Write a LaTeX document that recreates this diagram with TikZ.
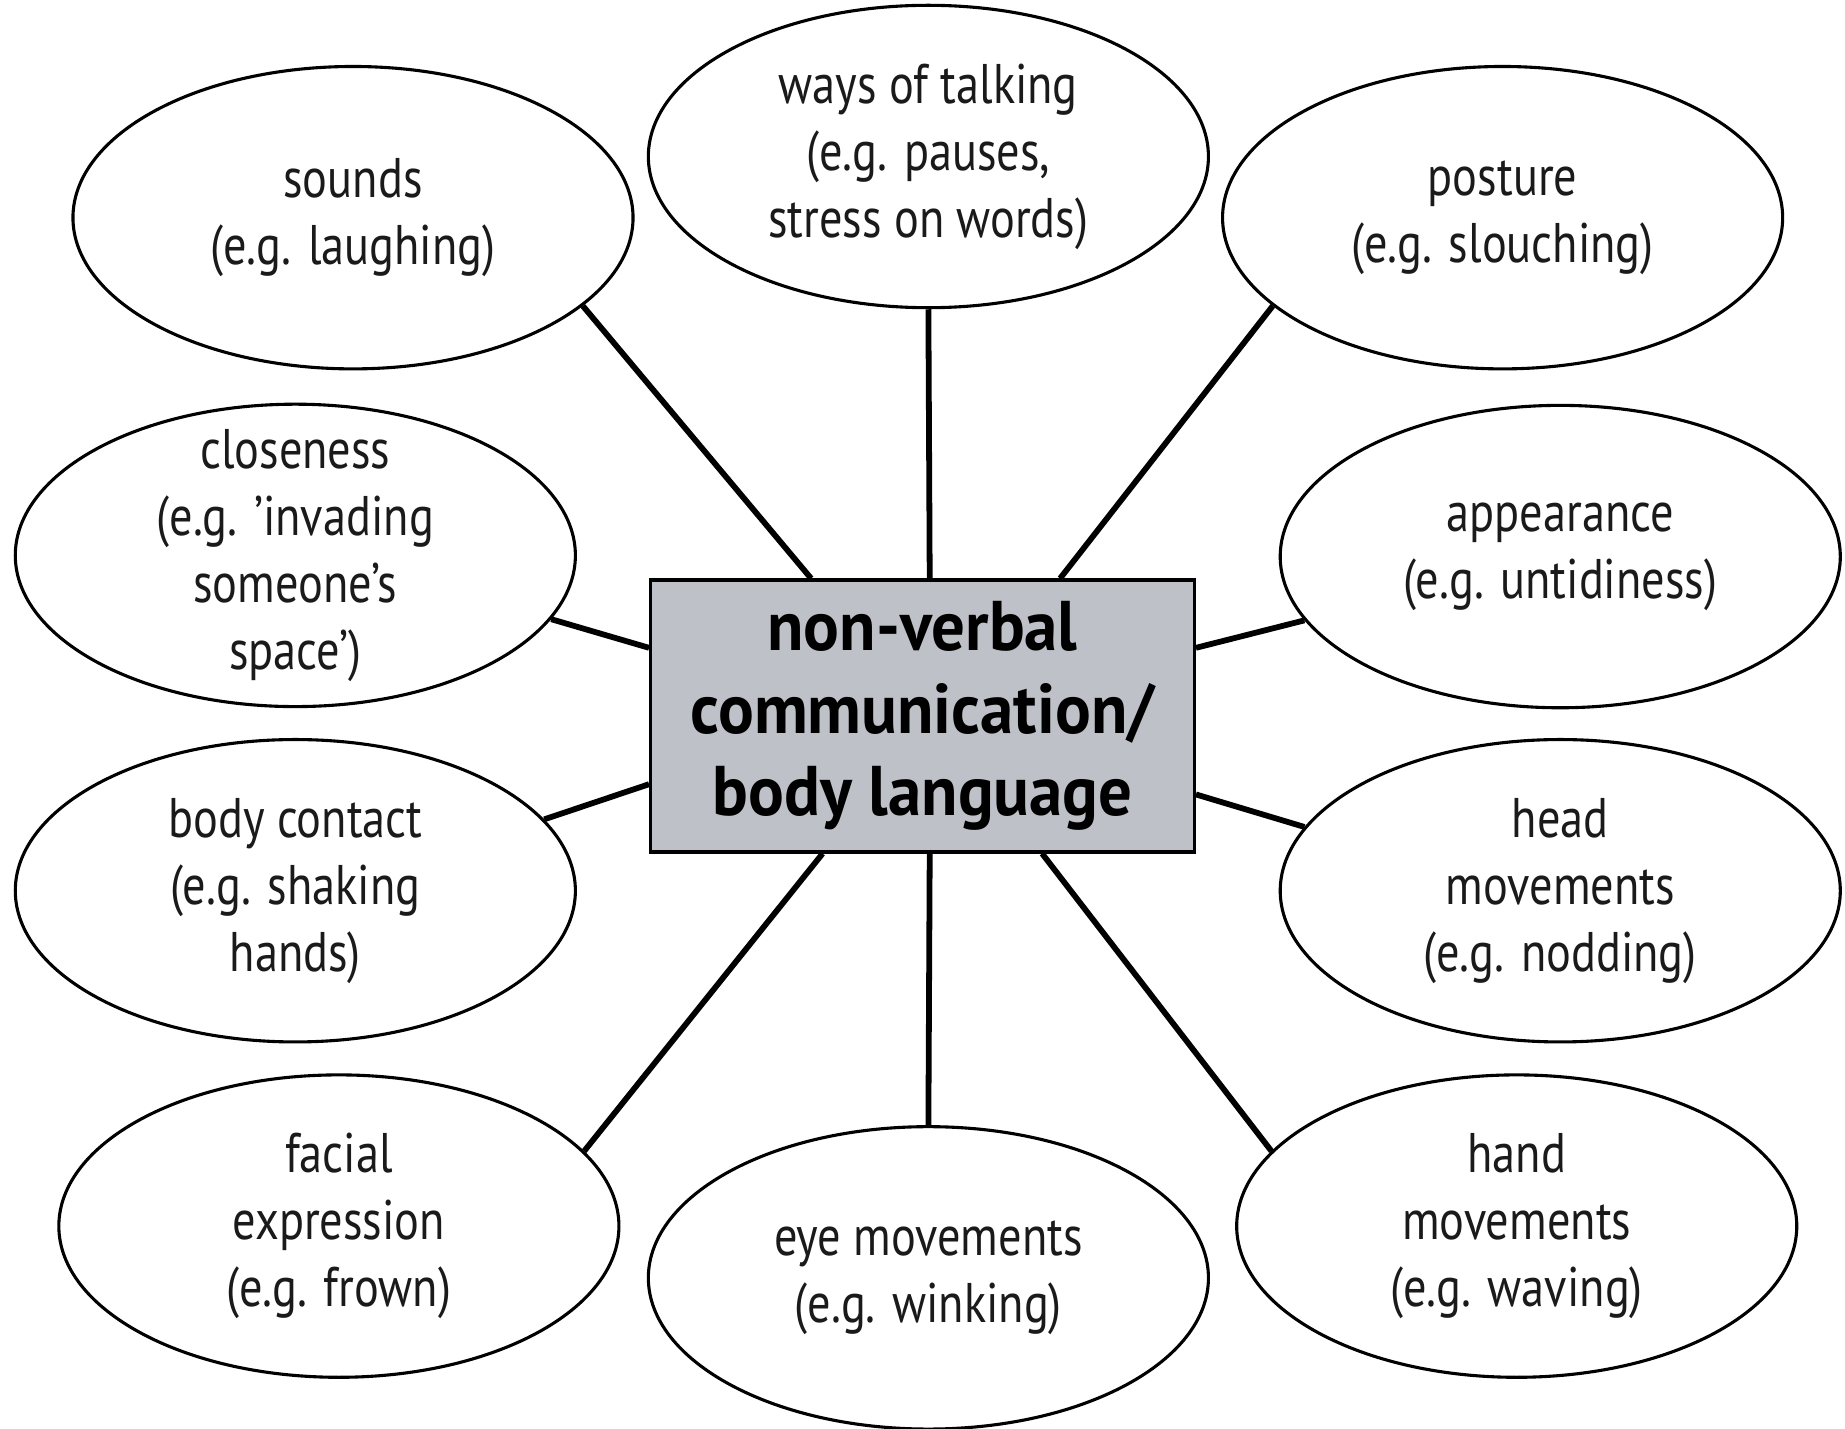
\documentclass[tikz,border=0pt]{standalone}
\usepackage{fontspec}
\setmainfont{PT Sans}[FakeStretch=0.83]
\newfontfamily\hubfont{PT Sans}[FakeStretch=0.95]
\usepackage{tikz}
\usetikzlibrary{arrows,shapes}

\begin{document}
\begin{tikzpicture}[auto]

  \definecolor{hbox}{RGB}{191,193,201} % grey-blue hub
\definecolor{htxt}{HTML}{000000} % black

\definecolor{obox}{HTML}{FFFFFF} % white
\definecolor{otxt}{HTML}{1A1A1A} % off-black

\tikzstyle{oval}=[ellipse,draw=black,fill=obox,text=otxt,
	line width=0.75pt,align=center,inner sep=-0.6cm,
	minimum width=4.76cm,minimum height=2.57cm,
	font=\fontsize{13.5}{16.2}\selectfont]

\tikzstyle{hub}=[rectangle,draw=black,fill=hbox,text=htxt,
	line width=0.8pt,align=center,
	minimum width=4.62cm,minimum height=2.31cm,
	font=\hubfont\bfseries\fontsize{17}{20}\selectfont]

\tikzstyle{spoke}=[-,color=black,line width=1.4pt]


  \useasboundingbox (0,0) rectangle (15.68,12.14);

  \node  (hub)   at (7.84,6.055)   [hub]
         {non-verbal\\communication/\\body language};

  \node  (sounds)  at (3.00,10.29)  [oval] {sounds\\(e.g. laughing)};
  \node  (talk)    at (7.89,10.81)  [oval] {ways of talking\\(e.g. pauses,\\stress on words)};
  \node  (posture) at (12.77,10.29) [oval] {posture\\(e.g. slouching)};

  \node  (close)   at (2.51,7.42)   [oval] {closeness\\(e.g. ’invading\\someone’s\\space’)};
  \node  (looks)   at (13.26,7.41)  [oval] {appearance\\(e.g. untidiness)};

  \node  (contact) at (2.51,4.57)   [oval] {body contact\\(e.g. shaking\\hands)};
  \node  (head)    at (13.26,4.57)  [oval] {head\\movements\\(e.g. nodding)};

  \node  (face)    at (2.88,1.72)   [oval] {facial\\expression\\(e.g. frown)};
  \node  (eye)     at (7.89,1.28)   [oval] {eye movements\\(e.g. winking)};
  \node  (hand)    at (12.89,1.72)  [oval] {hand\\movements\\(e.g. waving)};

  \path (hub.129)  edge [spoke] (sounds.-21)
        (hub.87)   edge [spoke] (talk.south)
        (hub.45.6) edge [spoke] (posture.201.3)
        (hub.166)  edge [spoke] (close.-14.1)
        (hub.14)   edge [spoke] (looks.194)
        (hub.194.9) edge [spoke] (contact.16.9)
        (hub.-16.5) edge [spoke] (head.166.8)
        (hub.234)  edge [spoke] (face.17.8)
        (hub.-87)  edge [spoke] (eye.north)
        (hub.-49.4) edge [spoke] (hand.163.5);

\end{tikzpicture}
\end{document}
